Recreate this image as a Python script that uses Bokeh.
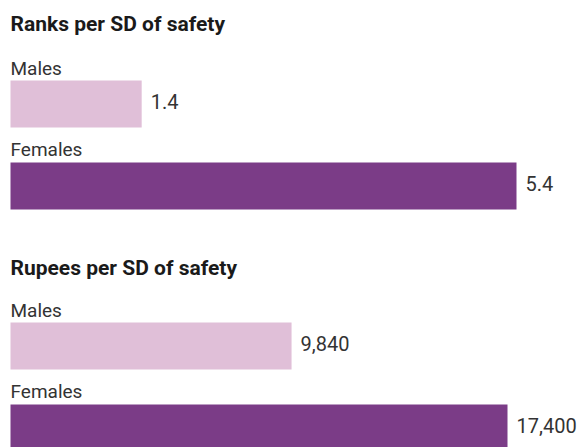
from bokeh.plotting import figure
from bokeh.models import Range1d, ColumnDataSource
from bokeh.core.properties import value
from bokeh.embed import file_html
from bokeh.resources import INLINE

# ---- data ----
panel_titles = ["Ranks per SD of safety", "Rupees per SD of safety"]
groups = ["Males", "Females"]
ranks = [1.4, 5.4]
rupees = [9840, 17400]
rank_labels = ["1.4", "5.4"]
rupee_labels = ["9,840", "17,400"]
colors = ["#E0BFD8", "#7B3C87"]

W, H = 577, 447
FONT = "Roboto"
TXT = "#333333"

rank_scale = 506 / 5.4       # px per rank
rupee_scale = 497 / 17400    # px per rupee
x0 = 10                      # pixel position of zero

p = figure(width=W, height=H, output_backend="svg", toolbar_location=None,
           x_range=Range1d(-x0 / rank_scale, (W - x0) / rank_scale),
           y_range=Range1d(H, 0), min_border=0)
p.extra_x_ranges = {"rupees": Range1d(-x0 / rupee_scale, (W - x0) / rupee_scale)}
p.axis.visible = False
p.grid.visible = False
p.outline_line_color = None
p.background_fill_color = "white"
p.border_fill_color = "white"

# panel layout (pixel offsets)
panel_top = [0, 242]
title_base = [31, 275]
label_base = [75, 156]
bar_center = [103.5, 185.5]
bar_h = 47

for k, (vals, labs, rname) in enumerate([(ranks, rank_labels, "default"),
                                          (rupees, rupee_labels, "rupees")]):
    top = panel_top[k]
    src = ColumnDataSource(dict(
        y=[top + c for c in bar_center],
        right=vals,
        color=colors,
        lab=labs,
        name=groups,
        ly=[top + b for b in label_base],
    ))
    p.hbar(y="y", left=0, right="right", height=bar_h, fill_color="color",
           line_color=None, source=src, x_range_name=rname)
    p.text(x="right", y="y", text="lab", source=src, x_range_name=rname,
           x_offset=9, y_offset=-3, text_baseline="middle", text_align="left",
           text_font=value(FONT), text_font_size="20px", text_color=TXT)
    p.text(x=0, y="ly", text="name", source=src, x_range_name=rname,
           y_offset=-7, text_baseline="alphabetic", text_align="left",
           text_font=value(FONT), text_font_size="19px", text_color=TXT)
    p.text(x=[0], y=[title_base[k]], text=[panel_titles[k]], x_range_name=rname,
           y_offset=-8, text_baseline="alphabetic", text_align="left",
           text_font=value(FONT), text_font_style="bold",
           text_font_size="21px", text_color="#1a1a1a")

open("out.html", "w").write(file_html(p, INLINE))
